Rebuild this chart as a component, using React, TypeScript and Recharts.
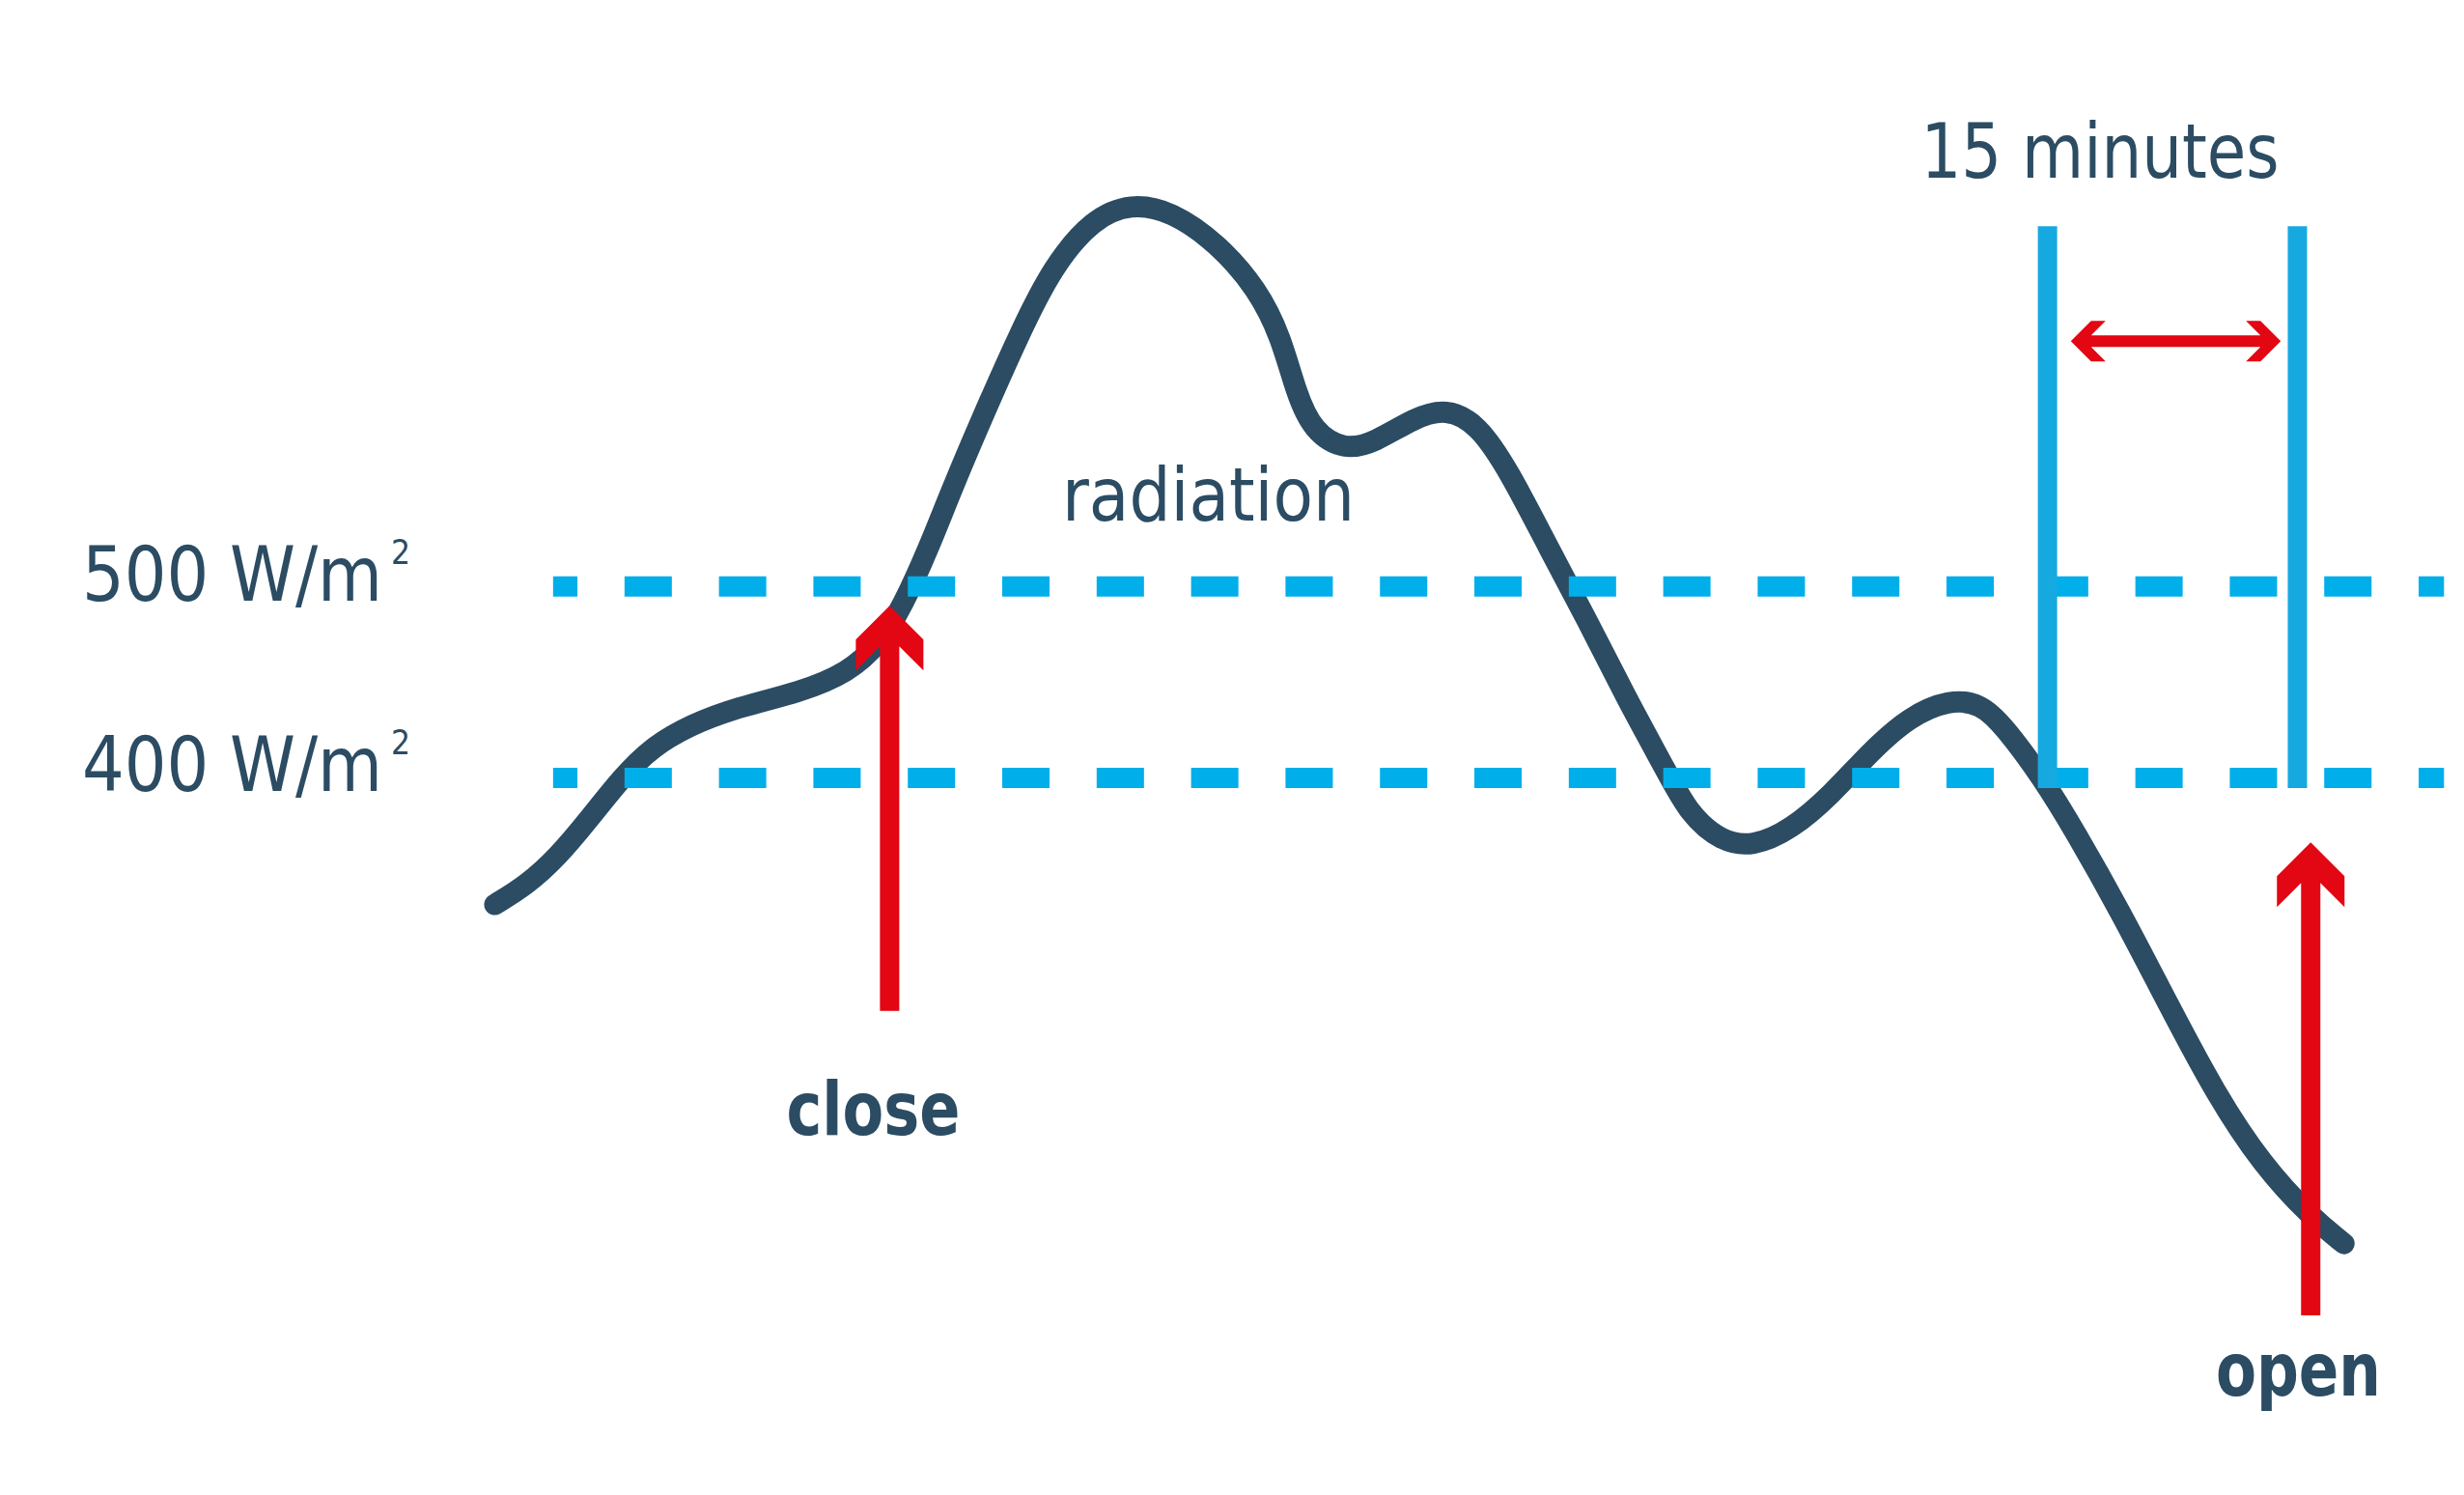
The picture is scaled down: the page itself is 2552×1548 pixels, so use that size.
import React from "react";
import { LineChart, Line, XAxis, YAxis, ReferenceLine, ReferenceDot } from "recharts";

// time axis in minutes, radiation in W/m²
const minutes = [
  26.8, 28.7, 30.6, 32.5, 34.4, 36.2, 38.6, 41.4, 45.2, 48.0, 49.9, 51.3, 52.8, 54.2, 56.1,
  58.4, 60.3, 62.7, 65.0, 67.4, 70.2, 72.6, 74.0, 74.9, 75.9, 77.8, 79.6, 82.0, 83.9, 85.8,
  87.7, 90.0, 92.4, 94.7, 97.1, 98.5, 100.4, 102.3, 104.6, 107.0, 109.4, 111.7, 114.1, 116.0,
  117.4, 119.7, 121.6, 124.4, 127.3, 130.1, 132.9, 135.8, 137.8,
];
const radiation = [
  334, 344, 359, 379, 400, 416, 428, 437, 445, 455, 470, 490, 519, 550, 589,
  634, 667, 692, 700, 696, 679, 655, 630, 601, 581, 571, 575, 588, 593, 585,
  560, 521, 482, 442, 404, 381, 367, 364, 373, 391, 414, 432, 441, 439,
  427, 400, 373, 330, 281, 235, 198, 171, 157,
];
const thresholds = [500, 400];
const thresholdLabels = ["500 W/m", "400 W/m"];
const thresholdSpan = [30.3, 143.8];
const timeWindow = [120, 135];
const windowSpan = [394.7, 688];
const closeArrow = { at: 50.5, from: 278.5, to: 489.9 };
const openArrow = { at: 135.8, from: 119.5, to: 366.4 };
const windowArrow = { y: 628, from: 121.4, to: 134.0 };

const data = minutes.map((m, i) => ({ m, r: radiation[i] }));

const DARK = "#2b4c63";
const CYAN = "#00aeea";
const BLUE = "#16a9e0";
const RED = "#e30613";
const FONT = "'DejaVu Sans Condensed', 'Liberation Sans Narrow', 'DejaVu Sans', sans-serif";

const UpArrow = (props: any) => {
  const { x1, y1, y2 } = props;
  const x = x1;
  const yt = Math.min(y1, y2);
  const yb = Math.max(y1, y2);
  const H = 35, T = 32, s = 10;
  const pts = [
    [x, yt], [x + H, yt + H], [x + H, yt + H + T], [x + s, yt + T + s], [x + s, yb],
    [x - s, yb], [x - s, yt + T + s], [x - H, yt + H + T], [x - H, yt + H],
  ];
  return <polygon points={pts.map((p) => p.join(",")).join(" ")} fill={RED} />;
};

const DoubleArrow = (props: any) => {
  const { x1, x2, y1 } = props;
  const L = Math.min(x1, x2);
  const R = Math.max(x1, x2);
  const y = y1;
  const H = 21, T = 15, s = 6;
  const pts = [
    [L, y], [L + H, y - H], [L + H + T, y - H], [L + T + s, y - s], [R - T - s, y - s],
    [R - H - T, y - H], [R - H, y - H], [R, y], [R - H, y + H], [R - H - T, y + H],
    [R - T - s, y + s], [L + T + s, y + s], [L + H + T, y + H], [L + H, y + H],
  ];
  return <polygon points={pts.map((p) => p.join(",")).join(" ")} fill={RED} />;
};

const DashedLine = (props: any) => (
  <line
    x1={props.x1}
    y1={props.y1}
    x2={props.x2}
    y2={props.y2}
    stroke={CYAN}
    strokeWidth={21}
    strokeDasharray="49 48.8"
    strokeDashoffset={23.8}
  />
);

const label = (text: string, opts: any) => (p: any) => (
  <g>
    <text
      x={p.cx}
      y={p.cy}
      fill={DARK}
      fontFamily={FONT}
      fontSize={opts.size}
      fontWeight={opts.bold ? 700 : 400}
      textLength={opts.width}
      lengthAdjust="spacingAndGlyphs"
    >
      {text}
    </text>
    {opts.sup && (
      <text x={p.cx + 320} y={p.cy - 38} fill={DARK} fontFamily={FONT} fontSize={35}>
        2
      </text>
    )}
  </g>
);

export default function App() {
  return (
    <div style={{ position: "fixed", left: 0, top: 0, width: 2552, height: 1548, background: "#fff" }}>
      <LineChart width={2552} height={1548} data={data} margin={{ top: 12, right: 0, bottom: 48, left: 50 }}>
        <XAxis dataKey="m" type="number" domain={[0, 145]} hide />
        <YAxis type="number" domain={[50, 800]} hide />
        <Line
          dataKey="r"
          type="basis"
          stroke={DARK}
          strokeWidth={22}
          strokeLinecap="round"
          strokeLinejoin="round"
          dot={false}
          activeDot={false}
          isAnimationActive={false}
        />
        {thresholds.map((t) => (
          <ReferenceLine
            key={t}
            segment={[{ x: thresholdSpan[0], y: t }, { x: thresholdSpan[1], y: t }]}
            shape={DashedLine}
          />
        ))}
        {timeWindow.map((w) => (
          <ReferenceLine
            key={w}
            segment={[{ x: w, y: windowSpan[0] }, { x: w, y: windowSpan[1] }]}
            stroke={BLUE}
            strokeWidth={20}
          />
        ))}
        <ReferenceLine
          segment={[{ x: windowArrow.from, y: windowArrow.y }, { x: windowArrow.to, y: windowArrow.y }]}
          shape={DoubleArrow}
        />
        <ReferenceLine
          segment={[{ x: closeArrow.at, y: closeArrow.from }, { x: closeArrow.at, y: closeArrow.to }]}
          shape={UpArrow}
        />
        <ReferenceLine
          segment={[{ x: openArrow.at, y: openArrow.from }, { x: openArrow.at, y: openArrow.to }]}
          shape={UpArrow}
        />
        <ReferenceDot x={2.03} y={492.4} r={0} shape={label(thresholdLabels[0], { size: 78, width: 311, sup: true })} />
        <ReferenceDot x={2.03} y={393.1} r={0} shape={label(thresholdLabels[1], { size: 78, width: 311, sup: true })} />
        <ReferenceDot x={112.4} y={713.2} r={0} shape={label("15 minutes", { size: 78, width: 371 })} />
        <ReferenceDot x={60.85} y={534.3} r={0} shape={label("radiation", { size: 76, width: 303 })} />
        <ReferenceDot x={44.3} y={213.7} r={0} shape={label("close", { size: 76, width: 180, bold: true })} />
        <ReferenceDot x={130.1} y={77.6} r={0} shape={label("open", { size: 76, width: 171, bold: true })} />
      </LineChart>
    </div>
  );
}
